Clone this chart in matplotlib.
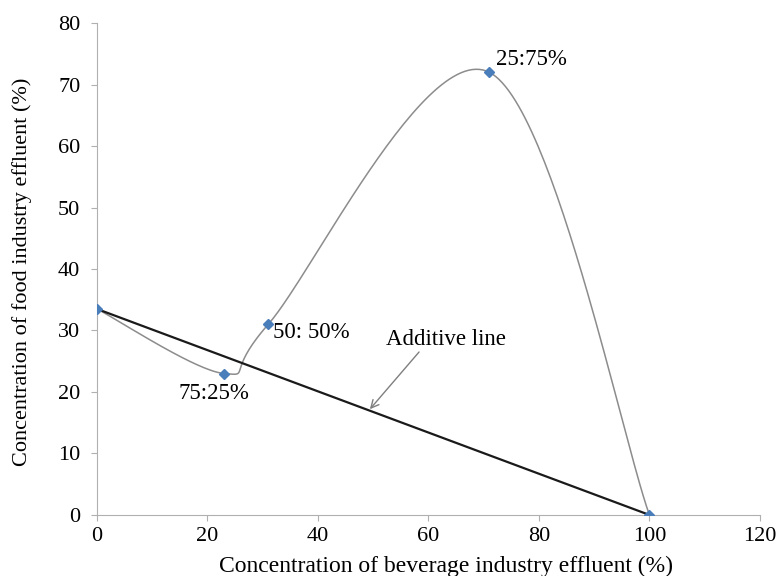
import numpy as np
import matplotlib.pyplot as plt

# Mixture points (beverage %, food %)
bev = [0, 23, 31, 71, 100]
food = [33.5, 23, 31, 72, 0]

# Additive line end points
add_x = [0, 100]
add_y = [33.5, 0]

# Ratio labels and where they sit (data coords)
ratio_labels = ['75:25%', '50: 50%', '25:75%']
ratio_pos = [(14.8, 19.8), (31.9, 29.6), (72.2, 74.0)]


def smooth_curve(x, y, n=60):
    '''Excel-like smoothed line (Catmull-Rom style Bezier segments).'''
    px = np.r_[x[0], x, x[-1]]
    py = np.r_[y[0], y, y[-1]]
    xs, ys = [], []
    t = np.linspace(0, 1, n)
    for i in range(1, len(px) - 2):
        p0 = np.array([px[i], py[i]])
        p3 = np.array([px[i + 1], py[i + 1]])
        p1 = p0 + (np.array([px[i + 1], py[i + 1]]) - np.array([px[i - 1], py[i - 1]])) / 6
        p2 = p3 - (np.array([px[i + 2], py[i + 2]]) - np.array([px[i], py[i]])) / 6
        b = ((1 - t) ** 3)[:, None] * p0 + (3 * (1 - t) ** 2 * t)[:, None] * p1 \
            + (3 * (1 - t) * t ** 2)[:, None] * p2 + (t ** 3)[:, None] * p3
        xs.extend(b[:, 0])
        ys.extend(b[:, 1])
    return np.array(xs), np.array(ys)


plt.rcParams['font.family'] = ['Liberation Serif', 'DejaVu Serif']

fig = plt.figure(figsize=(7.79, 5.76), dpi=100)
ax = fig.add_axes([0.1245, 0.106, 0.851, 0.854])

sx, sy = smooth_curve(np.array(bev, float), np.array(food, float))
ax.plot(sx, sy, color='#8c8c8c', lw=1.1, zorder=2)
ax.plot(add_x, add_y, color='#1a1a1a', lw=1.6, zorder=3)
ax.plot(bev, food, linestyle='none', marker='D', ms=5, color='#4a7ebb', zorder=4)

for lab, (lx, ly) in zip(ratio_labels, ratio_pos):
    ax.text(lx, ly, lab, fontsize=16.5, ha='left', va='center')
ax.annotate('', xy=(49.4, 17.2), xytext=(58.3, 26.5),
            arrowprops=dict(arrowstyle='->', color='#7f7f7f', lw=1,
                            shrinkA=0, shrinkB=0, mutation_scale=14))
ax.text(52.3, 28.6, 'Additive line', fontsize=16.5, ha='left', va='center')

ax.set_xlim(0, 120)
ax.set_ylim(0, 80)
ax.set_xticks(np.arange(0, 121, 20))
ax.set_yticks(np.arange(0, 81, 10))
for s in ['top', 'right']:
    ax.spines[s].set_visible(False)
for s in ['left', 'bottom']:
    ax.spines[s].set_color('#b0b0b0')
ax.tick_params(colors='#b0b0b0', labelcolor='black', labelsize=16, length=4, direction='out')
ax.tick_params(axis='y', pad=8)
ax.tick_params(axis='x', pad=5)

fig.text(446 / 779, 4 / 576, 'Concentration of beverage industry effluent (%)',
         fontsize=17, ha='center', va='baseline')
fig.text(22 / 779, 1 - 272 / 576, 'Concentration of food industry effluent (%)',
         fontsize=16, ha='center', va='center', rotation=90)

fig.savefig('out.png', dpi=100)
